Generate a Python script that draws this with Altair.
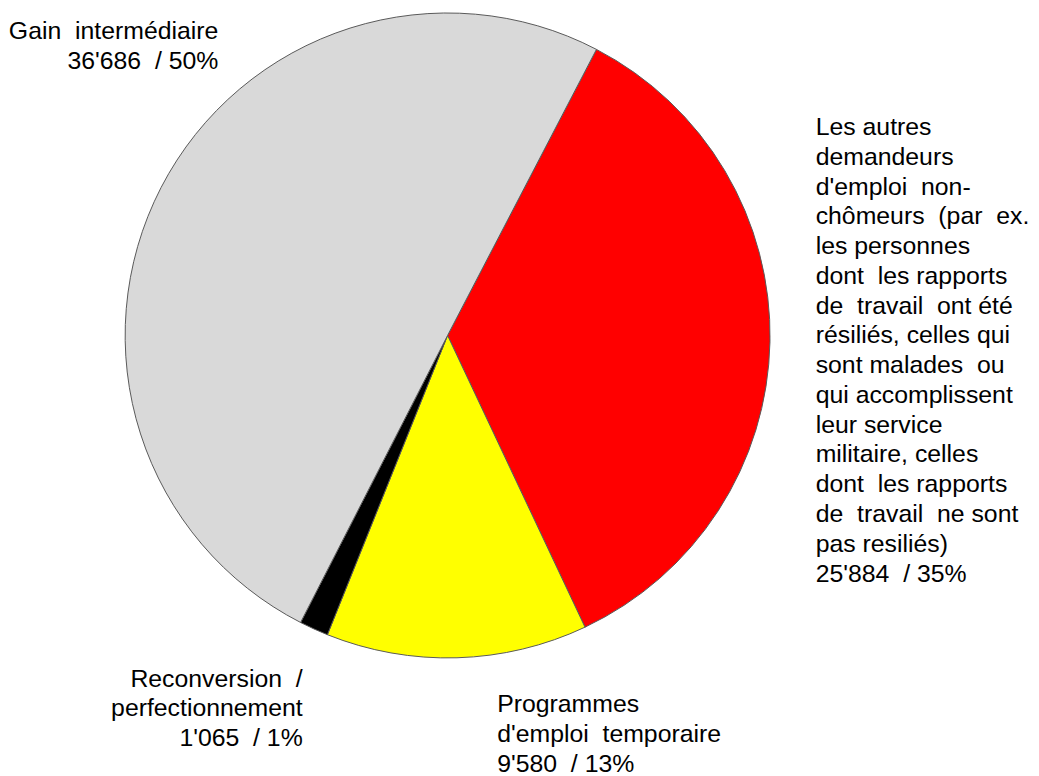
import math
import altair as alt
import pandas as pd

categories = [
    "Les autres demandeurs d'emploi non-chômeurs",
    "Programmes d'emploi temporaire",
    "Reconversion / perfectionnement",
    "Gain intermédiaire",
]
values = [25884, 9580, 1065, 36686]
colors = ["#ff0000", "#ffff00", "#000000", "#d9d9d9"]
name_lines = [
    ["Les autres", "demandeurs", "d'emploi  non-", "chômeurs  (par  ex.", "les personnes",
     "dont  les rapports", "de  travail  ont été", "résiliés, celles qui", "sont malades  ou",
     "qui accomplissent", "leur service", "militaire, celles", "dont  les rapports",
     "de  travail  ne sont", "pas resiliés)"],
    ["Programmes", "d'emploi  temporaire"],
    ["Reconversion  /", "perfectionnement"],
    ["Gain  intermédiaire"],
]

total = sum(values)
labels = []
for lines, v in zip(name_lines, values):
    num = f"{v:,}".replace(",", "'")
    pct = round(v / total * 100)
    text = "\n".join(lines + [f"{num}  / {pct}%"])
    labels.append(text.replace("  ", "\u00a0 "))

df = pd.DataFrame({"cat": categories, "value": values, "ord": list(range(len(values))), "label": labels})

start = math.radians(27.5)
cx, cy, r = 443, 327, 325

pie = alt.Chart(df).mark_arc(outerRadius=r, stroke="#595959", strokeWidth=1).encode(
    theta=alt.Theta("value:Q", stack=True, scale=alt.Scale(range=[start, start + 2 * math.pi])),
    color=alt.Color("cat:N", scale=alt.Scale(domain=categories, range=colors), legend=None),
    order=alt.Order("ord:Q"),
    x=alt.value(cx),
    y=alt.value(cy),
)

placements = [
    (814, 125, "left"),
    (493, 707, "left"),
    (297, 681, "right"),
    (212, 28, "right"),
]

layers = [pie]
for cat, (xv, yv, al) in zip(categories, placements):
    layers.append(
        alt.Chart(df).transform_filter(alt.datum.cat == cat).mark_text(
            align=al, baseline="alphabetic", lineBreak="\n", font="Liberation Sans",
            fontSize=25, lineHeight=30, color="#000000",
        ).encode(x=alt.value(xv), y=alt.value(yv), text="label:N")
    )

chart = alt.layer(*layers).properties(
    width=1031, height=768, autosize=alt.AutoSizeParams(type="none"), padding=0,
).configure_view(stroke=None)

chart.save("out.html", embed_options={"renderer": "svg", "actions": False})
